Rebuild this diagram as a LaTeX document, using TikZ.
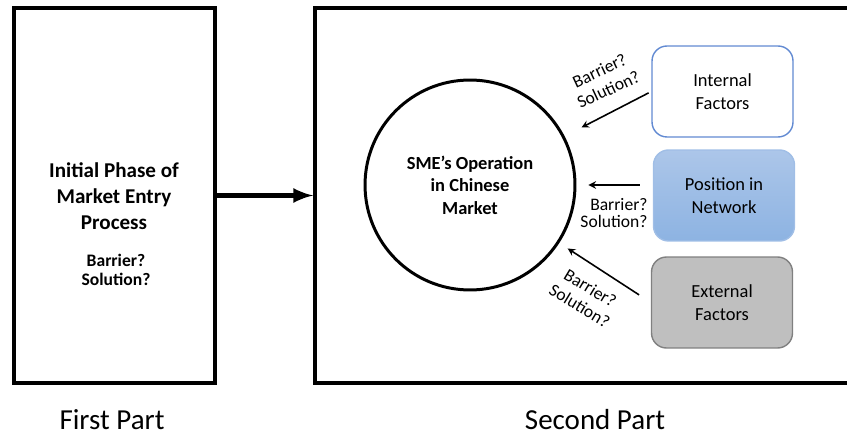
\documentclass[tikz,border=0pt]{standalone}
\usepackage{fontspec}
\setmainfont{Carlito}
\definecolor{edgeblue}{RGB}{98, 138, 210}
\definecolor{lightblue}{RGB}{172, 198, 233}
\definecolor{midblue}{RGB}{141, 179, 226}
\definecolor{paleedge}{RGB}{160, 190, 230}
\definecolor{gray75}{gray}{0.75}
\definecolor{gray50}{gray}{0.5}

\begin{document}
\begin{tikzpicture}[x=0.02cm, y=-0.02cm,
  part/.style={draw, line width=2.3pt, minimum height=7.5cm},
  factor/.style={rounded corners=8.5pt, minimum width=2.82cm, minimum height=1.82cm, align=center, line width=0.8pt, font=\fontsize{10.5}{13}\selectfont},
  question/.style={align=center, inner sep=0pt, font=\fontsize{10}{11.8}\selectfont},
  small/.style={->, >=stealth, line width=0.9pt}]
  \useasboundingbox (0, 0) rectangle (847, 435);
  \clip (0, 0) rectangle (847, 435);

  % the two parts
  \node [part, minimum width=4.02cm] (first) at (114.5, 195.5) {};
  \node [part, minimum width=11.3cm] (second) at (597.5, 195.5) {};
  \draw [->, >=latex, line width=2.8pt] (first) -- (second);

  \node [align=center, font=\bfseries\fontsize{12}{14.7}\selectfont] (title) at (114, 196) {Initial Phase of\\Market Entry\\Process};
  \node [align=center, inner sep=0pt, font=\bfseries\fontsize{10}{10.5}\selectfont] (firstq) at (116, 270) {Barrier?\\Solution?};

  \node [font=\fontsize{16.5}{18}\selectfont] (firstlabel) at (112, 420) {First Part};
  \node [font=\fontsize{16.5}{18}\selectfont] (secondlabel) at (595, 420) {Second Part};

  % second part
  \node [circle, draw, line width=1.7pt, minimum size=4.2cm, align=center, font=\bfseries\fontsize{10.5}{12.8}\selectfont] (sme) at (470, 185) {SME's Operation\\in Chinese\\Market};

  \node [factor, draw=edgeblue, fill=white] (internal) at (722.5, 91.5) {Internal\\Factors};
  \node [factor, draw=paleedge, top color=lightblue, bottom color=midblue] (position) at (724, 195.5) {Position in\\Network};
  \node [factor, draw=gray50, fill=gray75] (external) at (722, 302.5) {External\\Factors};

  \draw [small, shorten <=0.06cm, shorten >=0.38cm] (internal.west) -- (sme);
  \draw [small, shorten <=0.26cm, shorten >=0.24cm] (position.west |- sme) -- (sme);
  \draw [small, shorten <=0.28cm, shorten >=0.2cm] (external.west) -- (sme);

  \node [question, rotate=25] (internalq) at (604, 80) {Barrier?\\Solution?};
  \node [question, align=right, font=\fontsize{10}{10}\selectfont] (positionq) at (614, 213) {Barrier?\\Solution?};
  \node [question, rotate=-31] (externalq) at (585, 297) {Barrier?\\Solution?};
\end{tikzpicture}
\end{document}
